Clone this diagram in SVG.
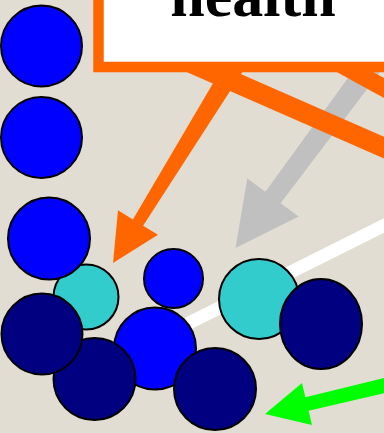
<svg xmlns="http://www.w3.org/2000/svg" width="384" height="433" viewBox="0 0 384 433">
<style>
.c{stroke:#000;stroke-width:2}
.blue{fill:#0000ff}
.navy{fill:#000080}
.cyan{fill:#33cccc}
.lbl{font-family:"Liberation Serif",serif;font-weight:bold;font-size:62px;fill:#000}
</style>
<rect x="0" y="0" width="384" height="433" fill="#e2ddd2"/>
<g id="connectors">
<line x1="420" y1="207.5" x2="155" y2="340" stroke="#ffffff" stroke-width="13"/>
<polygon fill="#c0c0c0" points="399,46.9 280.6,203.2 298.7,216.6 235.5,248.1 247.3,178.4 265.4,191.8 380.6,33.1"/>
<line x1="150" y1="45.2" x2="420" y2="163.4" stroke="#ff6600" stroke-width="20"/>
<line x1="300" y1="41.8" x2="420" y2="107.8" stroke="#ff6600" stroke-width="17.5"/>
<polygon fill="#ff6600" points="259.5,45.5 143.1,225.7 158,234.8 113,263 118,210.2 132.9,219.4 241.7,34.5"/>
<polygon fill="#00ff00" points="421.7,384.4 308.6,410.8 312,425 265,414 302,383 305.4,397.2 418.3,369.8"/>
</g>
<g id="health">
<rect x="98.5" y="-100" width="400" height="167" fill="#ffffff" stroke="#ff6600" stroke-width="10.5"/>
<text class="lbl" x="253" y="16" text-anchor="middle">health</text>
</g>
<g id="cyan1"><circle class="c cyan" cx="86" cy="297" r="32.5"/></g>
<g id="blue3"><circle class="c blue" cx="49" cy="238.5" r="41"/></g>
<g id="blue5"><circle class="c blue" cx="155" cy="348.5" r="41"/></g>
<g id="navy2"><circle class="c navy" cx="94.5" cy="379" r="41"/></g>
<g id="navy1"><circle class="c navy" cx="42" cy="334" r="40.5"/></g>
<g id="navy3"><circle class="c navy" cx="215" cy="389" r="41"/></g>
<g id="blue4"><circle class="c blue" cx="173.5" cy="278.5" r="29.5"/></g>
<g id="cyan2"><circle class="c cyan" cx="259" cy="299" r="40"/></g>
<g id="navy4"><ellipse class="c navy" cx="321" cy="324" rx="41" ry="45"/></g>
<g id="blue1"><circle class="c blue" cx="41.5" cy="46" r="40.5"/></g>
<g id="blue2"><circle class="c blue" cx="41.5" cy="137.5" r="40.5"/></g>
</svg>
